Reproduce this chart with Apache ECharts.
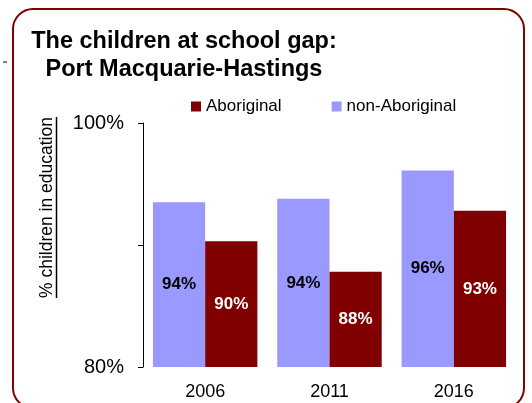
<!DOCTYPE html>
<html>
<head>
<meta charset="utf-8">
<script src="https://cdn.jsdelivr.net/npm/echarts@6/dist/echarts.min.js"></script>
<style>
html,body{margin:0;padding:0;background:#fff;}
#main{width:532px;height:403px;}
</style>
</head>
<body>
<div id="main"></div>
<script>
var categories = ['2006', '2011', '2016'];
var nonAboriginal = [93.5, 93.8, 96.1];
var aboriginal = [90.3, 87.8, 92.8];
var yTickLabels = {80: '80%', 100: '100%'};
var titleText = 'The children at school gap:\nPort Macquarie-Hastings';
var yName = '% children in education';

var FONT = '"Liberation Sans", Arial, sans-serif';
var chart = echarts.init(document.getElementById('main'), null, {renderer: 'canvas'});
chart.setOption({
  animation: false,
  backgroundColor: '#fff',
  textStyle: {fontFamily: FONT},
  grid: {left: 143, right: 16, top: 123, bottom: 36, containLabel: false},
  legend: {
    data: ['Aboriginal', 'non-Aboriginal'],
    left: 186, top: 93,
    itemWidth: 10, itemHeight: 10, itemGap: 50,
    icon: 'rect',
    textStyle: {fontSize: 17, color: '#000', fontFamily: FONT, padding: [0, 0, 0, 0]}
  },
  xAxis: {
    type: 'category',
    data: categories,
    axisLine: {show: false},
    axisTick: {show: false},
    axisLabel: {fontSize: 18, color: '#000', margin: 16, fontFamily: FONT}
  },
  yAxis: {
    type: 'value',
    min: 80, max: 100, interval: 10,
    splitLine: {show: false},
    axisLine: {show: true, lineStyle: {color: '#000', width: 1}},
    axisTick: {show: true, length: 5, lineStyle: {color: '#000'}},
    axisLabel: {
      fontSize: 20, color: '#000', margin: 19, fontFamily: FONT,
      formatter: function (v) { return yTickLabels[v] || ''; }
    }
  },
  series: [
    {
      name: 'non-Aboriginal', type: 'bar', data: nonAboriginal,
      barGap: '0%', barCategoryGap: '16%',
      itemStyle: {color: '#9999FF'},
      label: {show: true, position: 'inside', fontSize: 17, fontWeight: 'bold', color: '#000', fontFamily: FONT,
        formatter: function (p) { return Math.round(p.value) + '%'; }}
    },
    {
      name: 'Aboriginal', type: 'bar', data: aboriginal,
      barGap: '0%', barCategoryGap: '16%',
      itemStyle: {color: '#800000'},
      label: {show: true, position: 'inside', fontSize: 17, fontWeight: 'bold', color: '#fff', fontFamily: FONT,
        formatter: function (p) { return Math.round(p.value) + '%'; }}
    }
  ],
  graphic: [
    {type: 'rect', shape: {x: 13, y: 9, width: 511, height: 399, r: 20},
      style: {fill: 'none', stroke: '#800000', lineWidth: 2}, silent: true},
    {type: 'line', shape: {x1: 3, y1: 62, x2: 7, y2: 62}, style: {stroke: '#000', lineWidth: 1}},
    {type: 'text', x: 184, y: 28,
      style: {text: titleText, textAlign: 'center', textVerticalAlign: 'top',
        font: 'bold 23.5px ' + FONT, lineHeight: 28, fill: '#000'}},
    {type: 'text', x: 47, y: 207.5, rotation: Math.PI / 2,
      style: {text: yName, textAlign: 'center', textVerticalAlign: 'middle',
        font: '17.5px ' + FONT, fill: '#000'}},
    {type: 'line', shape: {x1: 56.5, y1: 117, x2: 56.5, y2: 298}, style: {stroke: '#000', lineWidth: 1.5}}
  ]
});
</script>
</body>
</html>
